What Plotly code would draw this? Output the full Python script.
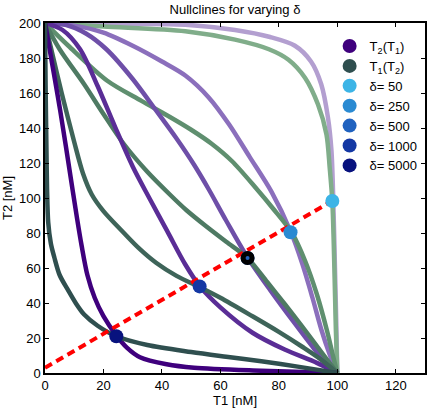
import plotly.graph_objects as go

deltas = [50, 250, 500, 1000, 5000]

# ---- T2(T1) nullclines (purple) ----
p50_t1 = [0, 20, 48, 65, 77, 85.5, 91, 94.5, 96.8, 98, 98.6, 99.2, 99.7, 100]
p50_t2 = [200, 199.7, 199, 196, 192, 187, 178, 165, 146, 127, 100, 60, 25, 0]

p250_t1 = [0, 10, 20, 30, 40, 48, 56, 63, 70, 77.5, 84, 88, 91.5, 94.5, 97.3, 100]
p250_t2 = [200, 198.5, 194.5, 187, 178, 170, 157.5, 142, 123.5, 103.5, 81, 62.5, 43, 25, 11, 0]

p500_t1 = [0, 7, 14, 21, 30, 38, 45, 51, 56, 62, 69.3, 77, 85.6, 92, 96, 100]
p500_t2 = [200, 199, 194, 185, 168, 150, 134, 119, 105, 87, 66, 47.5, 28, 14, 6, 0]

p1000_t1 = [0, 6, 12, 18, 24, 30, 36, 42, 48, 53, 60, 71, 82, 93, 100]
p1000_t2 = [200, 196, 185, 164, 140.5, 118, 99, 80.5, 62, 49.5, 37.5, 23, 13.4, 5.8, 0]

p5000_t1 = [0, 5.2, 9.5, 11, 12.5, 14.5, 17, 20, 24.4, 28, 32.5, 41.6, 51, 74, 100]
p5000_t2 = [200, 150, 104, 88, 73, 56, 43, 32.5, 21.5, 14.5, 9, 5, 3, 1.3, 0]

# ---- T1(T2) nullclines (green) ----
g50_t1 = [0, 20, 48, 65, 76.6, 83.3, 89, 93.4, 96.3, 97.4, 98.3, 99, 99.5, 100]
g50_t2 = [200, 198, 195.3, 190.5, 185, 179, 168.6, 153.4, 136.3, 117.3, 98, 60, 25, 0]

g250_t1 = [0, 8, 21.3, 33, 42, 50, 57, 64, 72, 78, 84.5, 89, 93, 96.5, 98.5, 100]
g250_t2 = [200, 187, 167, 155.5, 147, 139, 131, 121, 106, 94, 80, 64, 45, 24, 10, 0]

g500_t1 = [0, 5, 13.4, 20, 26.9, 35, 42.7, 48.4, 55, 62, 69.3, 76, 82.2, 88, 93.4, 97, 100]
g500_t2 = [200, 185, 165, 148, 131, 115, 102, 93, 84, 75, 65.7, 52, 39, 26.5, 14.5, 6.5, 0]

g1000_t1 = [0, 2, 5.7, 10, 13, 16, 20, 27, 32, 38, 45, 53, 60, 71, 80, 88, 94, 100]
g1000_t2 = [200, 186, 160, 132, 114, 102, 92.5, 80, 71.5, 63, 55.5, 49, 43, 32.4, 23.5, 15, 8.2, 0]

g5000_t1 = [0, 0.2, 0.5, 0.7, 1.1, 2, 3.2, 5, 7.8, 10.5, 13.4, 18, 24.4, 35, 50, 62, 74, 87, 100]
g5000_t2 = [200, 165, 127, 105, 86, 74, 66, 56, 47.6, 40, 33.4, 27, 21, 16, 12, 9.3, 6.7, 3.5, 0]

# ---- fixed points (intersections) ----
fp_t1 = [98.3, 84.0, 69.3, 52.9, 24.4]
fp_t2 = [98.3, 80.4, 65.7, 49.5, 21.0]

# ---- red dashed line ----
diag_t1 = [0, 100]
diag_t2 = [3, 100]

purple_colors = ["#b39fd0", "#8b6fbc", "#6e4fa8", "#5a2d96", "#3f007d"]
green_colors = ["#80ad8a", "#5f8f6f", "#4e7a63", "#3e6459", "#2f4f4f"]
point_colors = ["#3cb4e6", "#2a8ad2", "#2062bf", "#1438a4", "#08127e"]

purple_t1 = [p50_t1, p250_t1, p500_t1, p1000_t1, p5000_t1]
purple_t2 = [p50_t2, p250_t2, p500_t2, p1000_t2, p5000_t2]
green_t1 = [g50_t1, g250_t1, g500_t1, g1000_t1, g5000_t1]
green_t2 = [g50_t2, g250_t2, g500_t2, g1000_t2, g5000_t2]

fig = go.Figure()
LW = 4.5
for i in range(len(deltas)):
    fig.add_trace(go.Scatter(x=purple_t1[i], y=purple_t2[i], mode="lines",
                             line=dict(color=purple_colors[i], width=LW, shape="spline", smoothing=0.85),
                             showlegend=False, hoverinfo="skip"))
    fig.add_trace(go.Scatter(x=green_t1[i], y=green_t2[i], mode="lines",
                             line=dict(color=green_colors[i], width=LW, shape="spline", smoothing=0.85),
                             showlegend=False, hoverinfo="skip"))

fig.add_trace(go.Scatter(x=diag_t1, y=diag_t2, mode="lines",
                         line=dict(color="#ff0000", width=4, dash="8px,5px"),
                         showlegend=False, hoverinfo="skip"))

# legend entries for nullclines
fig.add_trace(go.Scatter(x=[None], y=[None], mode="markers",
                         marker=dict(color="#3f007d", size=14),
                         name="T<sub>2</sub>(T<sub>1</sub>)"))
fig.add_trace(go.Scatter(x=[None], y=[None], mode="markers",
                         marker=dict(color="#2f4f4f", size=14),
                         name="T<sub>1</sub>(T<sub>2</sub>)"))

for i, d in enumerate(deltas):
    fig.add_trace(go.Scatter(x=[fp_t1[i]], y=[fp_t2[i]], mode="markers",
                             marker=dict(color=point_colors[i], size=14),
                             name="δ= %d" % d))

# highlighted point (black ring) at delta = 500
fig.add_trace(go.Scatter(x=[fp_t1[2]], y=[fp_t2[2]], mode="markers",
                         marker=dict(color=point_colors[2], size=9,
                                     line=dict(color="black", width=5)),
                         showlegend=False, hoverinfo="skip"))

axis_common = dict(showline=True, linecolor="black", linewidth=1.5, mirror="ticks",
                   ticks="inside", ticklen=4, tickwidth=1, tickcolor="black",
                   showgrid=False, zeroline=False,
                   tickfont=dict(size=13, color="black"))

fig.update_layout(
    width=432, height=410,
    margin=dict(l=41, r=5, t=23, b=37),
    paper_bgcolor="white", plot_bgcolor="white",
    font=dict(family="Liberation Sans, Arial, sans-serif", size=13, color="black"),
    title=dict(text="Nullclines for varying δ", x=0.5, xref="paper", xanchor="center",
               y=0.978, yref="container", yanchor="middle", font=dict(size=13)),
    xaxis=dict(range=[0, 130], dtick=20, tick0=0,
               title=dict(text="T1 [nM]", standoff=3, font=dict(size=13)), **axis_common),
    yaxis=dict(range=[0, 200], dtick=20, tick0=0,
               title=dict(text="T2 [nM]", standoff=5, font=dict(size=13)), **axis_common),
    legend=dict(x=0.749, y=0.977, xanchor="left", yanchor="top",
                bgcolor="rgba(0,0,0,0)", borderwidth=0, font=dict(size=13)),
    showlegend=True,
)

fig.write_html("out.html")
